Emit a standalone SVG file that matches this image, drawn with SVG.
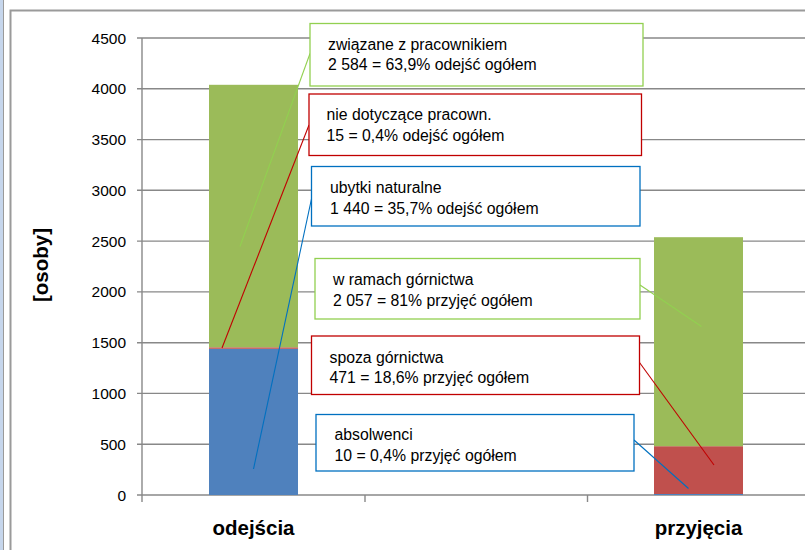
<svg xmlns="http://www.w3.org/2000/svg" width="805" height="550" viewBox="0 0 805 550">
<style>
.grid{stroke:#888;stroke-width:1.4;fill:none}
.axis{stroke:#888;stroke-width:1.4;fill:none}
.tick{font-family:"Liberation Sans",Arial,sans-serif;font-size:15.5px;fill:#000;text-anchor:end}
.lbl{font-family:"Liberation Sans",Arial,sans-serif;font-size:15.8px;fill:#000}
.cat{font-family:"Liberation Sans",Arial,sans-serif;font-size:20.5px;font-weight:bold;fill:#000;text-anchor:middle}
.box{fill:#fff;stroke-width:1.3}
.g{stroke:#92D050}
.r{stroke:#C00000}
.b{stroke:#0070C0}
.lead{fill:none;stroke-width:1.1}
</style>
<rect x="0" y="0" width="805" height="550" fill="#fff"/>
<rect x="0" y="0" width="3.5" height="550" fill="#c6d6ec"/>
<line x1="3.5" y1="0" x2="3.5" y2="550" stroke="#9a9a9a" stroke-width="1"/>
<path d="M10.5 550 V10.5 H805" fill="none" stroke="#9a9a9a" stroke-width="2"/>
<g id="grid">
<line class="grid" x1="137" y1="38" x2="805" y2="38"/>
<line class="grid" x1="137" y1="88.8" x2="805" y2="88.8"/>
<line class="grid" x1="137" y1="139.6" x2="805" y2="139.6"/>
<line class="grid" x1="137" y1="190.3" x2="805" y2="190.3"/>
<line class="grid" x1="137" y1="241.1" x2="805" y2="241.1"/>
<line class="grid" x1="137" y1="291.9" x2="805" y2="291.9"/>
<line class="grid" x1="137" y1="342.7" x2="805" y2="342.7"/>
<line class="grid" x1="137" y1="393.4" x2="805" y2="393.4"/>
<line class="grid" x1="137" y1="444.2" x2="805" y2="444.2"/>
<line class="axis" x1="137" y1="495" x2="805" y2="495"/>
<line class="axis" x1="142" y1="38" x2="142" y2="502"/>
<line class="axis" x1="365" y1="495" x2="365" y2="502"/>
<line class="axis" x1="587.5" y1="495" x2="587.5" y2="502"/>
</g>
<g id="ticks">
<text class="tick" x="126" y="43.5">4500</text>
<text class="tick" x="126" y="94.3">4000</text>
<text class="tick" x="126" y="145.1">3500</text>
<text class="tick" x="126" y="195.8">3000</text>
<text class="tick" x="126" y="246.6">2500</text>
<text class="tick" x="126" y="297.4">2000</text>
<text class="tick" x="126" y="348.2">1500</text>
<text class="tick" x="126" y="398.9">1000</text>
<text class="tick" x="126" y="449.7">500</text>
<text class="tick" x="126" y="500.5">0</text>
</g>
<text class="cat" transform="translate(48,265) rotate(-90)">[osoby]</text>
<g id="bar-odejscia">
<rect x="209" y="348.8" width="89" height="146.2" fill="#4F81BD"/>
<rect x="209" y="347.3" width="89" height="1.5" fill="#C0504D"/>
<rect x="209" y="84.8" width="89" height="262.5" fill="#9BBB59"/>
</g>
<g id="bar-przyjecia">
<rect x="654" y="494" width="89" height="1" fill="#4F81BD"/>
<rect x="654" y="446.2" width="89" height="47.8" fill="#C0504D"/>
<rect x="654" y="237.2" width="89" height="209" fill="#9BBB59"/>
</g>
<g id="connectors">
<line class="lead g" x1="310" y1="53.5" x2="240" y2="246.5"/>
<line class="lead r" x1="309" y1="125" x2="222" y2="348"/>
<line class="lead b" x1="312" y1="196.5" x2="253.5" y2="469"/>
<line class="lead g" x1="640" y1="285" x2="701.5" y2="326.5"/>
<line class="lead r" x1="639.5" y1="362.5" x2="714" y2="465"/>
<line class="lead b" x1="634" y1="440" x2="688.5" y2="488.5"/>
</g>
<g id="box-zwiazane">
<rect class="box g" x="310" y="23.5" width="333" height="62.5"/>
<text class="lbl" x="328" y="49.5">związane z pracownikiem</text>
<text class="lbl" x="328" y="69.5">2 584 = 63,9% odejść ogółem</text>
</g>
<g id="box-nie-dotyczace">
<rect class="box r" x="309" y="94" width="332.5" height="61.5"/>
<text class="lbl" x="326.5" y="119.5">nie dotyczące pracown.</text>
<text class="lbl" x="326.5" y="140.5">15 = 0,4% odejść ogółem</text>
</g>
<g id="box-ubytki">
<rect class="box b" x="311.5" y="166.5" width="328.5" height="59.5"/>
<text class="lbl" x="330" y="192.5">ubytki naturalne</text>
<text class="lbl" x="330" y="213.5">1 440 = 35,7% odejść ogółem</text>
</g>
<g id="box-w-ramach">
<rect class="box g" x="315" y="258.5" width="325" height="60.5"/>
<text class="lbl" x="333" y="285">w ramach górnictwa</text>
<text class="lbl" x="333" y="306">2 057 = 81% przyjęć ogółem</text>
</g>
<g id="box-spoza">
<rect class="box r" x="311.5" y="336" width="328" height="58.5"/>
<text class="lbl" x="329.5" y="362.5">spoza górnictwa</text>
<text class="lbl" x="329.5" y="383">471 = 18,6% przyjęć ogółem</text>
</g>
<g id="box-absolwenci">
<rect class="box b" x="316" y="414.5" width="318" height="56.5"/>
<text class="lbl" x="334.5" y="440">absolwenci</text>
<text class="lbl" x="334.5" y="460.5">10 = 0,4% przyjęć ogółem</text>
</g>
<text class="cat" x="253.5" y="535">odejścia</text>
<text class="cat" x="698.5" y="535">przyjęcia</text>
</svg>
